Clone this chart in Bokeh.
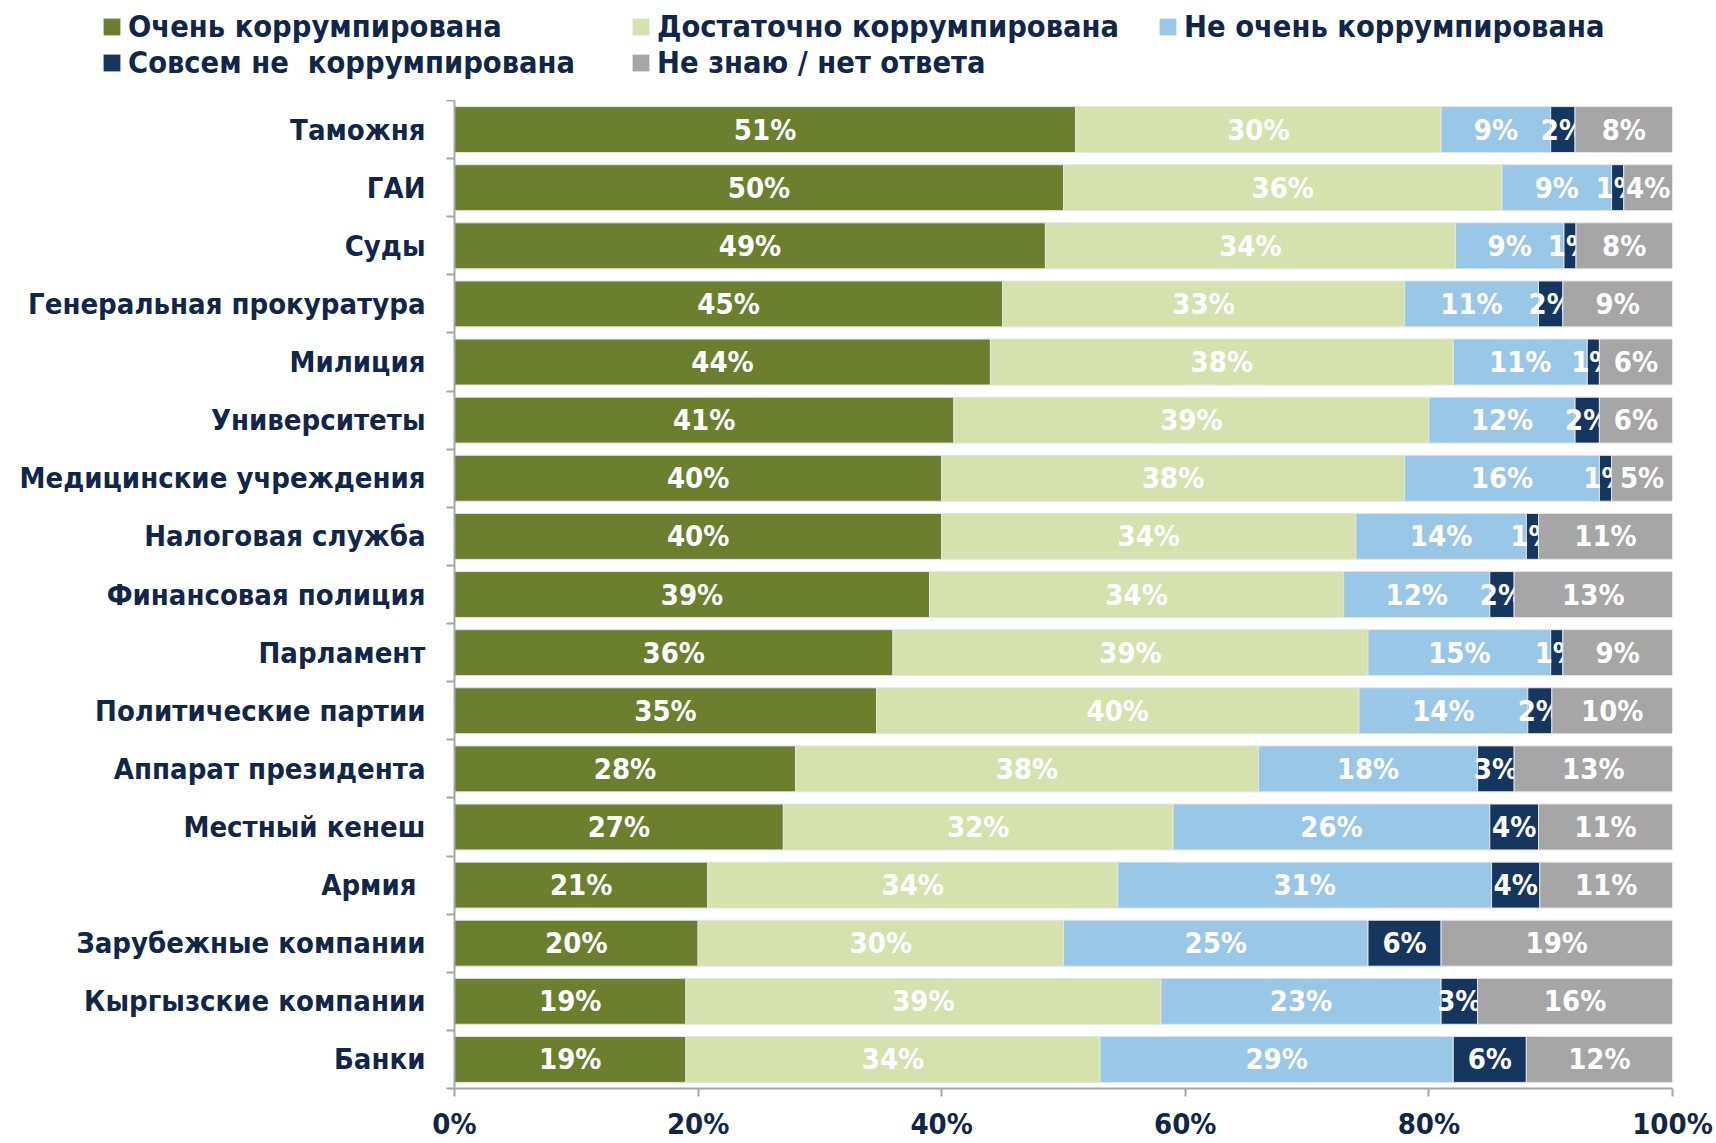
import numpy as np
from bokeh.plotting import figure
from bokeh.models import Legend, LegendItem, FixedTicker, ColumnDataSource
from bokeh.core.properties import value
from bokeh.embed import file_html
from bokeh.resources import INLINE

categories = ["Таможня", "ГАИ", "Суды", "Генеральная прокуратура", "Милиция",
              "Университеты", "Медицинские учреждения", "Налоговая служба",
              "Финансовая полиция", "Парламент", "Политические партии",
              "Аппарат президента", "Местный кенеш", "Армия ",
              "Зарубежные компании", "Кыргызские компании", "Банки"]
very = [51, 50, 49, 45, 44, 41, 40, 40, 39, 36, 35, 28, 27, 21, 20, 19, 19]
quite = [30, 36, 34, 33, 38, 39, 38, 34, 34, 39, 40, 38, 32, 34, 30, 39, 34]
not_very = [9, 9, 9, 11, 11, 12, 16, 14, 12, 15, 14, 18, 26, 31, 25, 23, 29]
not_at_all = [2, 1, 1, 2, 1, 2, 1, 1, 2, 1, 2, 3, 4, 4, 6, 3, 6]
dont_know = [8, 4, 8, 9, 6, 6, 5, 11, 13, 9, 10, 13, 11, 11, 19, 16, 12]
series_names = ["Очень коррумпирована", "Достаточно коррумпирована",
                "Не очень коррумпирована", "Совсем не  коррумпирована",
                "Не знаю / нет ответа"]
x_ticks = [0, 20, 40, 60, 80, 100]

colors = ["#6B7F2F", "#D5E2AE", "#98C7E8", "#14365F", "#A6A6A6"]
TEXT = "#12264A"
FONT = "DejaVu Sans Condensed"
FS = "29px"
LEG_FS = "30.5px"

PAGE_W, PAGE_H = 1716, 1143
LEG_H = 100
MAIN_H = PAGE_H - LEG_H
B_LEFT, B_RIGHT, B_TOP, B_BOTTOM = 454, 44, 0, 54

n = len(categories)
ypos = np.arange(n)[::-1].astype(float)  # top category highest
vals = np.array([very, quite, not_very, not_at_all, dont_know], dtype=float)
shares = vals / vals.sum(axis=0) * 100.0
rights = np.cumsum(shares, axis=0)
lefts = rights - shares

p = figure(width=PAGE_W, height=MAIN_H, output_backend="svg", toolbar_location=None,
           x_range=(0, 100), y_range=(-0.5, n - 0.5),
           min_border_left=B_LEFT, min_border_right=B_RIGHT,
           min_border_top=B_TOP, min_border_bottom=B_BOTTOM)
p.outline_line_color = None
p.xgrid.visible = False
p.ygrid.visible = False

for k in range(5):
    src = ColumnDataSource(dict(y=ypos, left=lefts[k], right=rights[k],
                                mid=(lefts[k] + rights[k]) / 2,
                                lab=[f"{int(v)}%" for v in vals[k]]))
    p.hbar(y="y", left="left", right="right", height=0.79, source=src,
           fill_color=colors[k], line_color="#E4E4E4", line_width=1)
    p.text(x="mid", y="y", text="lab", source=src, text_color="white",
           text_font=value(FONT), text_font_style="bold", text_font_size=FS,
           text_align="center", text_baseline="middle")

# axes
p.xaxis.ticker = FixedTicker(ticks=x_ticks)
p.xaxis.major_label_overrides = {t: f"{t}%" for t in x_ticks}
p.xaxis.axis_line_color = "#A6A6A6"
p.xaxis.axis_line_width = 2
p.xaxis.major_tick_line_color = "#A6A6A6"
p.xaxis.major_tick_line_width = 2
p.xaxis.major_tick_in = 0
p.xaxis.major_tick_out = 8
p.xaxis.minor_tick_line_color = None
p.xaxis.major_label_standoff = 10
p.xaxis.major_label_text_font = FONT
p.xaxis.major_label_text_font_style = "bold"
p.xaxis.major_label_text_font_size = FS
p.xaxis.major_label_text_color = TEXT

p.yaxis.ticker = FixedTicker(ticks=list(ypos),
                             minor_ticks=list(np.arange(n + 1) - 0.5))
p.yaxis.major_label_overrides = {float(y): c for y, c in zip(ypos, categories)}
p.yaxis.axis_line_color = "#A6A6A6"
p.yaxis.axis_line_width = 2
p.yaxis.major_tick_line_color = None
p.yaxis.major_tick_in = 0
p.yaxis.major_tick_out = 0
p.yaxis.minor_tick_line_color = "#A6A6A6"
p.yaxis.minor_tick_line_width = 2
p.yaxis.minor_tick_in = 0
p.yaxis.minor_tick_out = 8
p.yaxis.major_label_standoff = 21
p.yaxis.major_label_text_font = FONT
p.yaxis.major_label_text_font_style = "bold"
p.yaxis.major_label_text_font_size = FS
p.yaxis.major_label_text_color = TEXT

# legend figure (top strip), a separate root so its frame is not aligned
lf = figure(width=PAGE_W, height=LEG_H, output_backend="svg", toolbar_location=None,
            x_range=(0, 1), y_range=(0, 1), x_axis_location=None, y_axis_location=None,
            min_border_left=0, min_border_right=0, min_border_top=0, min_border_bottom=0)
lf.outline_line_color = None
lf.xgrid.visible = False
lf.ygrid.visible = False
dummy = []
for k in range(5):
    # legend-only renderers, placed outside the visible range
    r = lf.hbar(y=[5], left=[5], right=[6], height=0.5,
                fill_color=colors[k], line_color=None)
    dummy.append(r)

ROW_H = 36
TOP_GAP = 8
columns = [[0, 3], [1, 4], [2]]
col_x = [101, 630, 1157]
for cx, idxs in zip(col_x, columns):
    items = [LegendItem(label=series_names[i], renderers=[dummy[i]]) for i in idxs]
    leg_h = ROW_H * len(idxs)
    lg = Legend(items=items, location=(cx, LEG_H - TOP_GAP - leg_h),
                orientation="vertical", padding=0, margin=0, spacing=0,
                label_height=ROW_H, glyph_width=21, glyph_height=21,
                label_standoff=6, border_line_color=None,
                background_fill_alpha=0,
                label_text_font=FONT, label_text_font_style="bold",
                label_text_font_size=LEG_FS, label_text_color=TEXT)
    lf.add_layout(lg, "center")

open("out.html", "w").write(file_html([lf, p], INLINE))
